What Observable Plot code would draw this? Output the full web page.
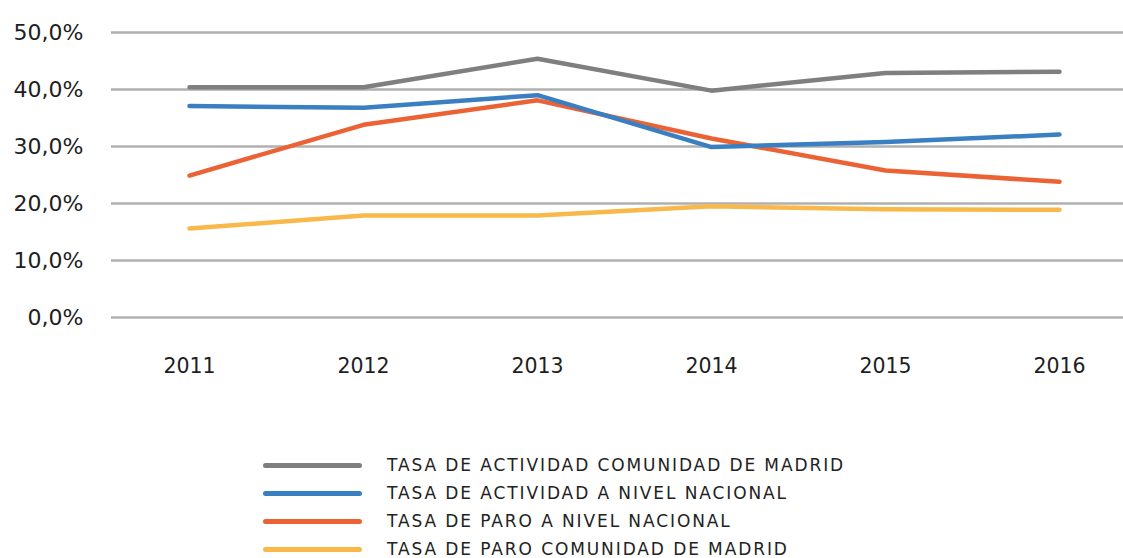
<!DOCTYPE html>
<html>
<head>
<meta charset="utf-8">
<script src="https://cdn.jsdelivr.net/npm/d3@7"></script>
<script src="https://cdn.jsdelivr.net/npm/@observablehq/plot@0.6"></script>
<style>
  html, body { margin: 0; padding: 0; background: #fff; }
  body { width: 1123px; height: 558px; position: relative; overflow: hidden; font-family: "DejaVu Sans", sans-serif; color: #222; }
  #legend { position: absolute; left: 0; top: 451px; }
  .row { position: absolute; left: 0; height: 28px; width: 1000px; }
  .swatch { position: absolute; left: 263px; top: 12px; width: 99px; height: 4.5px; border-radius: 3px; }
  .lab { position: absolute; left: 387px; top: 2px; font-size: 17px; line-height: 24px; white-space: nowrap; letter-spacing: 1.9px; }
</style>
</head>
<body>
<div id="chart"></div>
<div id="legend"></div>
<script>
const years = [2011, 2012, 2013, 2014, 2015, 2016];
const seriesNames = [
  "TASA DE ACTIVIDAD COMUNIDAD DE MADRID",
  "TASA DE ACTIVIDAD A NIVEL NACIONAL",
  "TASA DE PARO A NIVEL NACIONAL",
  "TASA DE PARO COMUNIDAD DE MADRID"
];
const actividadMadrid   = [40.4, 40.4, 45.4, 39.8, 42.9, 43.1];
const actividadNacional = [37.1, 36.8, 39.0, 29.9, 30.8, 32.1];
const paroNacional      = [24.9, 33.8, 38.1, 31.4, 25.8, 23.8];
const paroMadrid        = [15.6, 17.9, 17.9, 19.5, 19.0, 18.9];
const colors = ["#7f7f7f", "#3a7fc2", "#eb6334", "#f9b84a"];
const yTicks = [0, 10, 20, 30, 40, 50];

const allSeries = [actividadMadrid, actividadNacional, paroNacional, paroMadrid];
const data = allSeries.flatMap((vals, i) => vals.map((v, j) => ({year: years[j], value: v, series: seriesNames[i]})));
const drawOrder = [0, 2, 3, 1];

const plot = Plot.plot({
  width: 1123,
  height: 390,
  marginLeft: 111,
  marginRight: 0,
  marginTop: 32,
  marginBottom: 73,
  style: {fontFamily: "'DejaVu Sans', sans-serif", fontSize: "20px", color: "#1e1e1e", background: "#fff"},
  x: {type: "point", domain: years, range: [188, 1060], padding: 0, label: null},
  y: {domain: [0, 50], label: null},
  color: {domain: seriesNames, range: colors},
  marks: [
    Plot.ruleY(yTicks, {stroke: "#b0b0b0", strokeWidth: 2.4}),
    Plot.axisY(yTicks, {tickSize: 0, tickPadding: 28, tickFormat: d => d.toFixed(1).replace(".", ",") + "%", fontSize: 22, label: null}),
    Plot.axisX(years, {tickSize: 0, tickPadding: 41, tickFormat: d => String(d), fontSize: 20.5, label: null}),
    ...drawOrder.map(i => Plot.line(data.filter(d => d.series === seriesNames[i]), {
      x: "year", y: "value", stroke: "series", strokeWidth: 4.5, strokeLinecap: "round", strokeLinejoin: "round"
    }))
  ]
});
document.getElementById("chart").appendChild(plot);

const legend = document.getElementById("legend");
seriesNames.forEach((name, i) => {
  const row = document.createElement("div");
  row.className = "row";
  row.style.top = (i * 28) + "px";
  const sw = document.createElement("div");
  sw.className = "swatch";
  sw.style.background = colors[i];
  const lab = document.createElement("div");
  lab.className = "lab";
  lab.textContent = name;
  row.appendChild(sw);
  row.appendChild(lab);
  legend.appendChild(row);
});
</script>
</body>
</html>
